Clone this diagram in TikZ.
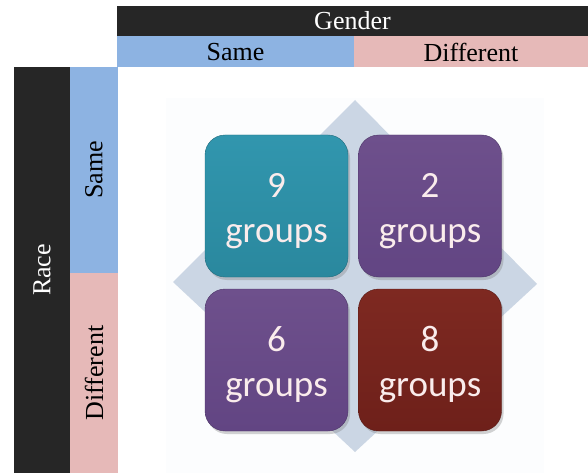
\documentclass[tikz,border=0pt]{standalone}
\usepackage{fontspec}
\setmainfont{Liberation Serif}
\newfontfamily\boxfont{Carlito}
\usetikzlibrary{shadows}
\definecolor{barblack}{HTML}{262626}
\definecolor{barblue}{HTML}{8DB3E2}
\definecolor{barpink}{HTML}{E6B9B8}
\definecolor{panelbg}{HTML}{FCFDFE}
\definecolor{diamondfill}{HTML}{CBD6E4}
\definecolor{tealtop}{HTML}{3196AE}
\definecolor{tealbot}{HTML}{2A889E}
\definecolor{purptop}{HTML}{6E508C}
\definecolor{purpbot}{HTML}{624583}
\definecolor{redtop}{HTML}{7E2921}
\definecolor{redbot}{HTML}{6E201A}
\definecolor{boxtext}{HTML}{FAECEC}
\tikzset{
  header/.style={inner sep=0pt, font=\fontsize{26}{28}\selectfont},
  cell/.style={rounded corners=20pt, minimum width=143pt, minimum height=142pt,
    align=center, text=boxtext, font=\boxfont\fontsize{37}{45}\selectfont,
    drop shadow={shadow xshift=2pt, shadow yshift=-3pt, opacity=0.35}},
}
\begin{document}
\begin{tikzpicture}[x=1pt,y=-1pt]
\useasboundingbox (0,0) rectangle (588,473);
% header bars
\fill[barblack] (117,6) rectangle (588,36);
\fill[barblue] (117,36) rectangle (354,67);
\fill[barpink] (354,36) rectangle (588,67);
\fill[barblack] (14,67) rectangle (70,473);
\fill[barblue] (70,67) rectangle (118,273);
\fill[barpink] (70,273) rectangle (118,473);
\node[header, text=white] (gender) at (352.5,21) {Gender};
\node[header] (gsame) at (235.5,52) {Same};
\node[header] (gdiff) at (471,52) {Different};
\node[header, text=white, rotate=90] (race) at (42,270) {Race};
\node[header, rotate=90] (rsame) at (94,170) {Same};
\node[header, rotate=90] (rdiff) at (94,373) {Different};
% matrix panel
\fill[panelbg] (166,98) rectangle (544,473);
\fill[diamondfill] (355,100) -- (537,284) -- (355,452) -- (173,282) -- cycle;
\node[cell, top color=tealtop, bottom color=tealbot, draw=tealbot!80!black] (c11) at (276.5,206) {};
\node[cell, top color=purptop, bottom color=purpbot, draw=purpbot!80!black] (c12) at (430,206) {};
\node[cell, top color=purptop, bottom color=purpbot, draw=purpbot!80!black] (c21) at (276.5,360) {};
\node[cell, top color=redtop, bottom color=redbot, draw=redbot!80!black] (c22) at (430,360) {};
% cell labels
\foreach \c/\n in {c11/9, c12/2, c21/6, c22/8}
  \node[align=center, text=boxtext, font=\boxfont\fontsize{37}{45}\selectfont]
    (\c-label) at ([yshift=-5pt]\c.center) {\n\\groups};
\end{tikzpicture}
\end{document}
